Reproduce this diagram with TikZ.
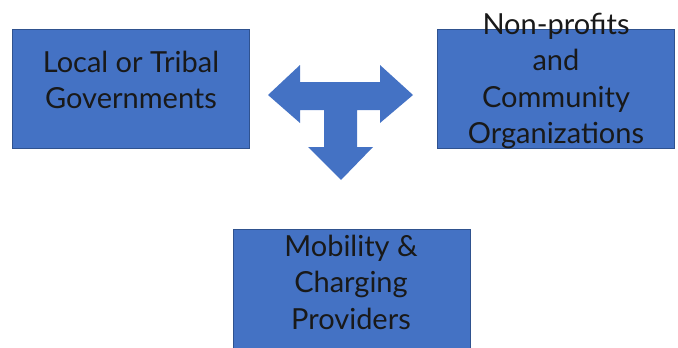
\documentclass[tikz,border=0pt]{standalone}
\usepackage{fontspec}
\setmainfont{Lato}
\definecolor{boxblue}{HTML}{4472C4}
\definecolor{edgeblue}{HTML}{2F528F}

\begin{document}
\begin{tikzpicture}[x=1pt, y=-1pt,
                        box/.style={rectangle, fill=boxblue, draw=edgeblue, line width=.8pt,
                          minimum width=237pt, minimum height=119pt, inner sep=0pt},
                        label/.style={align=center, font=\fontsize{29}{36.5}\selectfont,
                          text=black!90, inner sep=0pt}]
      \useasboundingbox (0,0) rectangle (678,348);
      \node[box] (gov) at (130.5,88.5) {};
      \node[box] (npo) at (556,88.5) {};
      \node[box] (mob) at (351.5,288.5) {};
      \node[label] (govtext) at (131,80) {Local or Tribal\\Governments};
      \node[label] (npotext) at (556,81) {Non-profits\\and\\Community\\Organizations};
      \node[label] (mobtext) at (351,282) {Mobility \&\\Charging\\Providers};
      % three-way arrow
      \fill[boxblue] (268,95) -- (300,65) -- (300,82) -- (380,82) -- (380,65) -- (413,95)
        -- (380,123) -- (380,110) -- (357,110) -- (357,147) -- (373,147) -- (341,180)
        -- (308,147) -- (324,147) -- (324,110) -- (300,110) -- (300,123) -- cycle;
    \end{tikzpicture}
\end{document}
